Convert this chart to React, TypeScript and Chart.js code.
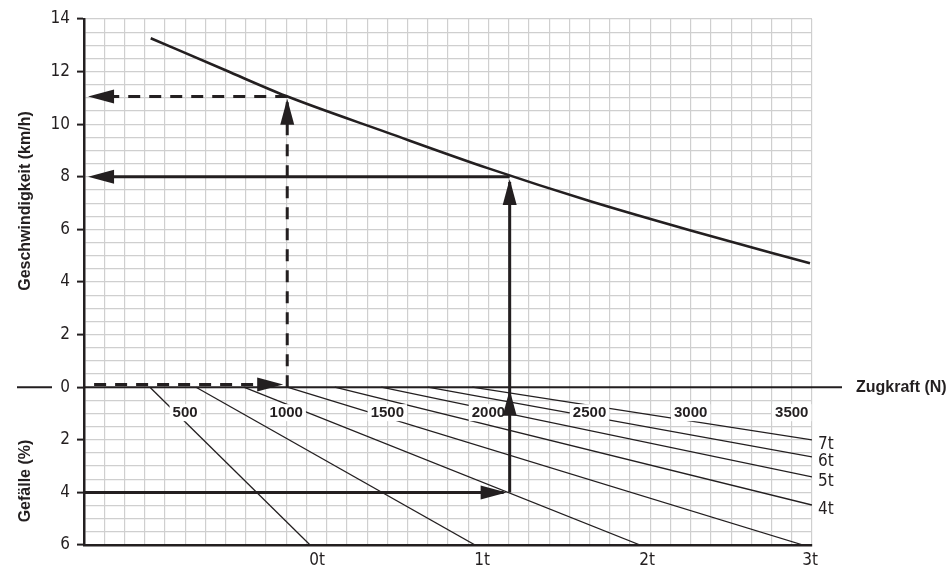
import React, { useEffect, useRef } from "react";
import { Chart, registerables } from "chart.js";

Chart.register(...registerables);

// ---------- data ----------
const forceMin = 0;
const forceMax = 3600; // Zugkraft (N)
const speedMax = 14; // km/h
const slopeMax = 6; // Gefälle (%), drawn downwards

// speed curve: Zugkraft (N) -> Geschwindigkeit (km/h)
const curveForce = [330, 700, 1000, 1500, 2000, 2500, 3000, 3590];
const curveSpeed = [13.27, 12.05, 11.07, 9.68, 8.32, 7.08, 5.96, 4.71];

// weight lines in the Gefälle section
const weightLabels = ["0t", "1t", "2t", "3t", "4t", "5t", "6t", "7t"];
const weightStartForce = [326, 554, 790, 1005, 1240, 1470, 1700, 1920]; // N at 0 %
const weightEndForce = [1118, 1934, 2750, 3556, 3600, 3600, 3600, 3600]; // N at end
const weightEndSlope = [6, 6, 6, 6, 4.48, 3.41, 2.65, 2.0]; // % at end

// Zugkraft labels written inside the Gefälle section
const forceLabels = [500, 1000, 1500, 2000, 2500, 3000, 3500];
const forceLabelSlope = 0.95;

// worked examples
const exampleDashed = { slope: 0, force: 1005, speed: 11.05 };
const exampleSolid = { slope: 4, force: 2105, speed: 8.0 };

// ---------- style ----------
const INK = "#231f20";
const GRID = "#cfcfcf";
const NARROW = "'Liberation Sans Narrow', 'Arial Narrow', 'DejaVu Sans Condensed', sans-serif";
const BOLD = "'Liberation Sans', Arial, Helvetica, sans-serif";

type Head = { x: number; y: number; dir: "up" | "left" | "right" };

function buildExample(ex: { slope: number; force: number; speed: number }, dashed: boolean) {
  const lift = dashed ? 0.1 : 0; // keep the dashed arrow visible above the 0 line
  const y0 = -ex.slope + lift;
  const segs = [
    [{ x: dashed ? 50 : 0, y: y0 }, { x: ex.force - (dashed ? 40 : 30), y: y0 }],
    [{ x: ex.force, y: -ex.slope }, { x: ex.force, y: ex.speed - 0.2 }],
    [{ x: ex.force, y: ex.speed }, { x: 60, y: ex.speed }],
  ];
  const heads: Head[] = [
    { x: ex.force - (dashed ? 20 : 15), y: y0, dir: "right" },
    { x: ex.force, y: ex.speed - 0.08, dir: "up" },
    { x: 20, y: ex.speed, dir: "left" },
  ];
  if (!dashed && ex.slope > 0) heads.push({ x: ex.force, y: -0.1, dir: "up" });
  return { segs, heads };
}

const exA = buildExample(exampleDashed, true);
const exB = buildExample(exampleSolid, false);
const allHeads = [...exA.heads, ...exB.heads];

function drawHead(ctx: CanvasRenderingContext2D, x: number, y: number, dir: string) {
  const len = 26;
  const half = 7;
  let dx = 0, dy = 0;
  if (dir === "up") dy = -1;
  if (dir === "left") dx = -1;
  if (dir === "right") dx = 1;
  ctx.beginPath();
  ctx.moveTo(x, y);
  ctx.lineTo(x - dx * len - dy * half, y - dy * len + dx * half);
  ctx.lineTo(x - dx * len + dy * half, y - dy * len - dx * half);
  ctx.closePath();
  ctx.fill();
}

const nomoPlugin = {
  id: "nomo",
  beforeDatasetsDraw(chart: any) {
    chart.$boxesDone = false;
    const ctx = chart.ctx as CanvasRenderingContext2D;
    const x = chart.scales.x;
    const y = chart.scales.y;
    const y0 = y.getPixelForValue(0);
    ctx.save();
    ctx.strokeStyle = INK;
    ctx.lineWidth = 2;
    ctx.beginPath();
    ctx.moveTo(17, y0);
    ctx.lineTo(52, y0);
    ctx.moveTo(x.getPixelForValue(forceMin), y0);
    ctx.lineTo(x.getPixelForValue(forceMax) + 30, y0);
    ctx.stroke();
    ctx.restore();
  },
  beforeDatasetDraw(chart: any, args: any) {
    const ds = chart.data.datasets[args.index];
    if (ds.isWeight || chart.$boxesDone) return;
    chart.$boxesDone = true;
    const ctx = chart.ctx as CanvasRenderingContext2D;
    const x = chart.scales.x;
    const y = chart.scales.y;
    ctx.save();
    ctx.font = `bold 15px ${BOLD}`;
    ctx.textAlign = "center";
    ctx.textBaseline = "middle";
    forceLabels.forEach((f) => {
      const px = x.getPixelForValue(f);
      const py = y.getPixelForValue(-forceLabelSlope);
      const w = ctx.measureText(String(f)).width;
      ctx.fillStyle = "#ffffff";
      ctx.fillRect(px - w / 2 - 3, py - 8, w + 6, 17);
      ctx.fillStyle = INK;
      ctx.fillText(String(f), px, py + 1);
    });
    ctx.restore();
  },
  afterDatasetsDraw(chart: any) {
    const ctx = chart.ctx as CanvasRenderingContext2D;
    const x = chart.scales.x;
    const y = chart.scales.y;
    const area = chart.chartArea;
    ctx.save();
    ctx.fillStyle = INK;
    allHeads.forEach((h) => drawHead(ctx, x.getPixelForValue(h.x), y.getPixelForValue(h.y), h.dir));

    // weight labels
    ctx.font = `17px ${NARROW}`;
    ctx.textBaseline = "middle";
    weightLabels.forEach((w, i) => {
      const px = x.getPixelForValue(weightEndForce[i]);
      const py = y.getPixelForValue(-weightEndSlope[i]);
      if (weightEndSlope[i] >= slopeMax) {
        ctx.textAlign = "center";
        ctx.fillText(w, px + 7, area.bottom + 16);
      } else {
        ctx.textAlign = "left";
        ctx.fillText(w, area.right + 6, py + 5);
      }
    });

    // Zugkraft title
    ctx.font = `bold 16px ${BOLD}`;
    ctx.textAlign = "left";
    ctx.fillText("Zugkraft (N)", 856, y.getPixelForValue(0));

    // rotated axis titles
    const rot = (text: string, cx: number, cy: number) => {
      ctx.save();
      ctx.translate(cx, cy);
      ctx.rotate(-Math.PI / 2);
      ctx.textAlign = "center";
      ctx.textBaseline = "middle";
      ctx.fillText(text, 0, 0);
      ctx.restore();
    };
    rot("Geschwindigkeit (km/h)", 26, 201);
    rot("Gefälle (%)", 26, 481);
    ctx.restore();
  },
};

export default function App() {
  const ref = useRef<HTMLCanvasElement>(null);

  useEffect(() => {
    const canvas = ref.current;
    if (!canvas) return;
    const datasets: any[] = [];

    weightLabels.forEach((w, i) => {
      datasets.push({
        label: w,
        isWeight: true,
        order: 2,
        data: [
          { x: weightStartForce[i], y: 0 },
          { x: weightEndForce[i], y: -weightEndSlope[i] },
        ],
        borderColor: INK,
        borderWidth: 1.3,
        pointRadius: 0,
        showLine: true,
        fill: false,
      });
    });

    datasets.push({
      label: "Geschwindigkeit",
      order: 1,
      data: curveForce.map((f, i) => ({ x: f, y: curveSpeed[i] })),
      borderColor: INK,
      borderWidth: 2.6,
      pointRadius: 0,
      showLine: true,
      fill: false,
      cubicInterpolationMode: "monotone",
    });

    exA.segs.forEach((s) =>
      datasets.push({
        label: "exA",
        order: 1,
        data: s,
        borderColor: INK,
        borderWidth: 3,
        borderDash: [12, 9],
        pointRadius: 0,
        showLine: true,
        fill: false,
      })
    );
    exB.segs.forEach((s) =>
      datasets.push({
        label: "exB",
        order: 1,
        data: s,
        borderColor: INK,
        borderWidth: 3,
        pointRadius: 0,
        showLine: true,
        fill: false,
      })
    );

    const chart = new Chart(canvas, {
      type: "scatter",
      data: { datasets },
      plugins: [nomoPlugin as any],
      options: {
        responsive: false,
        animation: false,
        events: [],
        layout: { padding: { top: 19, right: 136, left: 0, bottom: 0 } },
        plugins: { legend: { display: false }, tooltip: { enabled: false } },
        scales: {
          x: {
            type: "linear",
            min: forceMin,
            max: forceMax,
            ticks: { stepSize: 100, display: false },
            grid: { color: GRID, lineWidth: 1.2, drawTicks: false },
            border: { display: true, color: INK, width: 2.5 },
            afterFit: (s: any) => {
              s.height = 24;
            },
          },
          y: {
            type: "linear",
            min: -slopeMax,
            max: speedMax,
            ticks: {
              stepSize: 0.5,
              autoSkip: false,
              padding: 7,
              color: INK,
              font: { family: NARROW, size: 17 },
              callback: (v: any) => (Math.abs(Number(v) % 2) < 1e-9 ? String(Math.abs(Number(v))) : ""),
            },
            grid: {
              color: GRID,
              lineWidth: 1.2,
              drawTicks: true,
              tickLength: 7,
              tickWidth: 2,
              tickColor: (c: any) =>
                c.tick && Math.abs(c.tick.value % 2) < 1e-9 ? INK : "rgba(0,0,0,0)",
            },
            border: { display: true, color: INK, width: 2.5 },
            afterFit: (s: any) => {
              s.width = 84;
            },
          },
        },
      } as any,
    });

    return () => chart.destroy();
  }, []);

  return (
    <div style={{ position: "absolute", left: 0, top: 0, width: 948, height: 569, background: "#ffffff" }}>
      <canvas ref={ref} width={948} height={569} style={{ display: "block" }} />
    </div>
  );
}
